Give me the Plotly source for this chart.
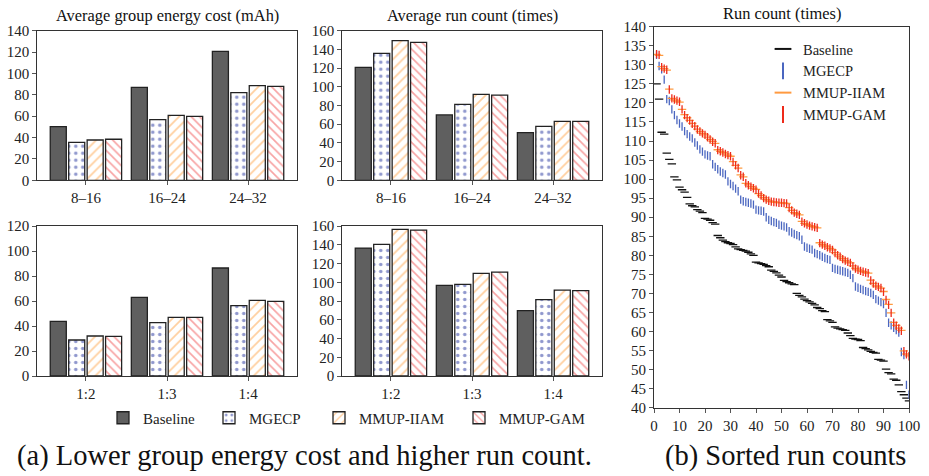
import plotly.graph_objects as go

# ---------------- data ----------------
series_names = ["Baseline", "MGECP", "MMUP-IIAM", "MMUP-GAM"]
group_cats = ["8–16", "16–24", "24–32"]
ratio_cats = ["1:2", "1:3", "1:4"]

energy_group = {
    "Baseline": [50.2, 87.0, 120.7],
    "MGECP": [35.5, 56.7, 82.0],
    "MMUP-IIAM": [37.7, 60.8, 88.6],
    "MMUP-GAM": [38.4, 59.9, 87.9],
}
run_group = {
    "Baseline": [120.8, 69.9, 51.0],
    "MGECP": [135.8, 81.3, 57.7],
    "MMUP-IIAM": [149.3, 91.9, 63.1],
    "MMUP-GAM": [147.5, 91.2, 63.1],
}
energy_ratio = {
    "Baseline": [43.7, 62.9, 86.4],
    "MGECP": [28.8, 42.7, 56.3],
    "MMUP-IIAM": [32.0, 46.9, 60.5],
    "MMUP-GAM": [31.7, 46.9, 59.7],
}
run_ratio = {
    "Baseline": [136.5, 96.7, 69.7],
    "MGECP": [140.4, 97.8, 81.4],
    "MMUP-IIAM": [156.4, 109.5, 91.7],
    "MMUP-GAM": [155.7, 110.9, 91.0],
}

run_index = list(range(1, 101))
sorted_baseline = [
    125.0, 121.0, 112.3, 111.8, 106.8, 105.2, 104.0, 100.6, 99.8, 97.9,
    97.2, 96.6, 95.2, 93.5, 93.0, 92.7, 92.0, 91.6, 91.2, 89.7,
    89.5, 89.2, 88.6, 88.2, 85.2, 84.6, 84.0, 83.6, 83.3, 83.1,
    82.8, 82.2, 81.7, 81.5, 81.3, 81.1, 80.8, 80.4, 80.0, 78.2,
    78.0, 77.8, 77.6, 77.3, 77.0, 76.1, 75.8, 75.4, 74.8, 74.3,
    73.4, 73.1, 72.8, 72.5, 72.3, 70.0, 69.5, 69.1, 68.5, 68.1,
    67.8, 67.4, 67.0, 66.3, 66.0, 65.5, 65.2, 63.1, 62.8, 62.4,
    61.2, 60.9, 60.7, 60.5, 60.3, 59.6, 58.9, 58.2, 58.0, 57.9,
    57.6, 55.8, 55.5, 55.2, 54.8, 54.5, 54.3, 52.7, 52.5, 52.2,
    50.1, 49.2, 48.9, 47.5, 47.2, 46.0, 44.2, 43.4, 42.5, 41.8,
]
sorted_mgecp = [
    132.6, 129.7, 128.8, 126.1, 121.0, 120.5, 118.3, 116.8, 115.5, 114.6,
    113.8, 112.6, 111.8, 111.2, 110.7, 109.6, 108.8, 107.8, 107.2, 106.5,
    106.2, 106.0, 103.9, 103.2, 102.6, 102.0, 101.6, 101.2, 99.4, 98.7,
    98.2, 97.5, 96.8, 94.6, 94.2, 94.0, 93.8, 93.6, 93.3, 92.0,
    91.8, 91.7, 91.5, 90.0, 89.3, 89.0, 88.7, 88.5, 88.0, 87.8,
    87.6, 87.3, 86.3, 86.0, 85.6, 85.3, 85.0, 84.1, 82.3, 82.0,
    81.7, 81.5, 80.6, 80.3, 80.0, 79.6, 79.3, 79.0, 78.8, 76.7,
    76.4, 76.2, 76.0, 75.8, 75.6, 75.4, 74.9, 74.0, 71.8, 71.5,
    71.2, 70.9, 70.6, 70.4, 70.1, 69.6, 68.5, 68.1, 67.7, 67.2,
    64.9, 62.3, 61.6, 61.0, 60.4, 59.7, 54.6, 53.8, 46.0, 43.4,
]
sorted_iiam = [
    132.7, 132.5, 129.5, 129.0, 128.6, 123.6, 121.2, 120.8, 120.5, 120.2,
    118.3, 116.9, 116.1, 115.4, 114.6, 113.9, 113.1, 112.5, 112.0, 111.6,
    111.0, 110.4, 109.9, 109.4, 107.7, 107.3, 107.0, 106.6, 106.3, 106.0,
    104.6, 103.6, 102.9, 101.1, 100.6, 98.9, 98.5, 98.0, 97.6, 97.3,
    96.2, 95.7, 95.1, 94.6, 94.3, 94.1, 94.0, 93.9, 93.8, 93.8,
    93.7, 93.6, 92.5, 91.8, 91.2, 90.9, 90.6, 88.9, 88.4, 88.1,
    87.8, 87.6, 87.4, 87.2, 83.3, 82.8, 82.5, 82.2, 81.8, 81.4,
    80.7, 80.1, 79.6, 79.1, 78.6, 78.3, 78.0, 77.2, 76.6, 76.2,
    75.9, 75.7, 75.5, 75.3, 73.5, 72.6, 72.0, 71.7, 71.4, 70.5,
    68.4, 67.1, 64.9, 62.4, 61.6, 60.9, 60.3, 54.9, 54.1, 53.6,
]
sorted_gam = [
    132.8, 132.6, 129.4, 129.0, 128.7, 123.5, 121.2, 120.9, 120.6, 120.3,
    118.3, 116.8, 116.0, 115.4, 114.5, 113.9, 113.0, 112.5, 112.0, 111.6,
    111.0, 110.4, 109.8, 109.4, 107.6, 107.3, 107.0, 106.6, 106.3, 106.0,
    104.5, 103.6, 102.9, 101.0, 100.6, 98.9, 98.4, 98.0, 97.6, 97.2,
    96.2, 95.7, 95.0, 94.6, 94.3, 94.1, 94.0, 93.9, 93.8, 93.8,
    93.7, 93.6, 92.4, 91.8, 91.2, 90.9, 90.6, 88.8, 88.4, 88.1,
    87.8, 87.6, 87.4, 87.2, 83.2, 82.8, 82.5, 82.1, 81.8, 81.4,
    80.6, 80.0, 79.6, 79.0, 78.6, 78.3, 78.0, 77.1, 76.5, 76.2,
    75.9, 75.7, 75.5, 75.3, 73.4, 72.6, 72.0, 71.7, 71.4, 70.4,
    68.3, 67.0, 64.9, 62.3, 61.5, 60.8, 60.2, 54.8, 54.0, 53.5,
]

# ---------------- style ----------------
FONT = "Liberation Serif, 'Times New Roman', DejaVu Serif, serif"
W, H = 929, 476

bar_style = {
    "Baseline": dict(color="#5f5f5f", pattern=dict(shape="")),
    "MGECP": dict(color="white", pattern=dict(shape=".", fgcolor="#1f2f9c", bgcolor="white",
                                              size=7, solidity=0.2)),
    "MMUP-IIAM": dict(color="white", pattern=dict(shape="/", fgcolor="#ffa040", bgcolor="white",
                                                  size=7, solidity=0.25)),
    "MMUP-GAM": dict(color="white", pattern=dict(shape="\\", fgcolor="#f04848", bgcolor="white",
                                                 size=6, solidity=0.28)),
}
# one legend box per bar series, so each entry sits where the reference puts it
bar_legend_ids = {"Baseline": "legend", "MGECP": "legend3",
                  "MMUP-IIAM": "legend4", "MMUP-GAM": "legend5"}
bar_legend_px = {"legend": 103, "legend3": 209, "legend4": 319, "legend5": 459}

scatter_style = {
    "Baseline": dict(symbol="line-ew", color="#111111"),
    "MGECP": dict(symbol="line-ns", color="#4a66c0"),
    "MMUP-IIAM": dict(symbol="line-ew", color="#ff9a40"),
    "MMUP-GAM": dict(symbol="line-ns", color="#ee2a1a"),
}


def px2x(p):
    return p / W


def px2y(p):
    return 1 - p / H


fig = go.Figure()

panels = [
    ("x", "y", group_cats, energy_group),
    ("x2", "y2", group_cats, run_group),
    ("x3", "y3", ratio_cats, energy_ratio),
    ("x4", "y4", ratio_cats, run_ratio),
]
for pi, (xa, ya, cats, data) in enumerate(panels):
    for name in series_names:
        st = bar_style[name]
        fig.add_trace(go.Bar(
            x=cats, y=data[name], name=name, xaxis=xa, yaxis=ya,
            legendgroup=name, showlegend=(pi == 0), legend=bar_legend_ids[name],
            marker=dict(color=st["color"], pattern=st["pattern"],
                        line=dict(color="#222222", width=1.3)),
        ))

for name, vals in [("Baseline", sorted_baseline), ("MGECP", sorted_mgecp),
                   ("MMUP-IIAM", sorted_iiam), ("MMUP-GAM", sorted_gam)]:
    st = scatter_style[name]
    fig.add_trace(go.Scatter(
        x=run_index, y=vals, mode="markers", name=name, xaxis="x5", yaxis="y5",
        legend="legend2",
        marker=dict(symbol=st["symbol"], size=6, color=st["color"],
                    line=dict(color=st["color"], width=1.3)),
    ))

axis_common = dict(showline=True, mirror=True, linecolor="#333333", linewidth=1,
                   ticks="outside", ticklen=4, tickcolor="#555555", showgrid=False,
                   zeroline=False, automargin=False,
                   tickfont=dict(family=FONT, size=15, color="#222222"))

bx_tl = [px2x(37.3), px2x(296.7)]
bx_tm = [px2x(342.3), px2x(601.7)]
by_top = [px2y(180.3), px2y(30.7)]
by_bot = [px2y(376), px2y(226)]

legend_boxes = {}
for lid, xpx in bar_legend_px.items():
    legend_boxes[lid] = dict(orientation="h", x=px2x(xpx), xanchor="left", y=px2y(418),
                             yanchor="middle", font=dict(family=FONT, size=15),
                             bgcolor="rgba(0,0,0,0)", itemwidth=30, tracegroupgap=0,
                             itemclick=False)

fig.update_layout(
    width=W, height=H, margin=dict(l=0, r=0, t=0, b=0, pad=0, autoexpand=False),
    paper_bgcolor="white", plot_bgcolor="white",
    barmode="group", bargap=0.09, bargroupgap=0.13,
    font=dict(family=FONT, size=15, color="#222222"),
    xaxis=dict(domain=bx_tl, anchor="y", range=[-0.6, 2.6], **axis_common),
    yaxis=dict(domain=by_top, anchor="x", range=[0, 140], dtick=20, **axis_common),
    xaxis2=dict(domain=bx_tm, anchor="y2", range=[-0.6, 2.6], **axis_common),
    yaxis2=dict(domain=by_top, anchor="x2", range=[0, 160], dtick=20, **axis_common),
    xaxis3=dict(domain=bx_tl, anchor="y3", range=[-0.6, 2.6], **axis_common),
    yaxis3=dict(domain=by_bot, anchor="x3", range=[0, 120], dtick=20, **axis_common),
    xaxis4=dict(domain=bx_tm, anchor="y4", range=[-0.6, 2.6], **axis_common),
    yaxis4=dict(domain=by_bot, anchor="x4", range=[0, 160], dtick=20, **axis_common),
    xaxis5=dict(domain=[px2x(654), px2x(909)], anchor="y5", range=[0, 100], dtick=10,
                **axis_common),
    yaxis5=dict(domain=[px2y(407.7), px2y(26.7)], anchor="x5", range=[40, 140], dtick=5,
                **axis_common),
    legend2=dict(x=px2x(763), xanchor="left", y=px2y(33), yanchor="top",
                 font=dict(family=FONT, size=14.5), bgcolor="rgba(0,0,0,0)",
                 tracegroupgap=0, itemsizing="constant"),
    showlegend=True,
    **legend_boxes,
)

annotations = [
    dict(text="Average group energy cost (mAh)", x=px2x(167), y=px2y(16), size=16.4),
    dict(text="Average run count (times)", x=px2x(472), y=px2y(16), size=16.4),
    dict(text="Run count (times)", x=px2x(781.5), y=px2y(13), size=16.4),
    dict(text="(a) Lower group energy cost and higher run count.", x=px2x(304), y=px2y(456), size=28.5),
    dict(text="(b) Sorted run counts", x=px2x(785), y=px2y(456), size=28.5),
]
for a in annotations:
    fig.add_annotation(text=a["text"], x=a["x"], y=a["y"], xref="paper", yref="paper",
                       xanchor="center", yanchor="middle", showarrow=False,
                       font=dict(family=FONT, size=a["size"], color="#111111"))

fig.write_html("out.html", config={"displayModeBar": False},
               post_script="document.body.style.margin='0px';document.body.style.padding='0px';")
